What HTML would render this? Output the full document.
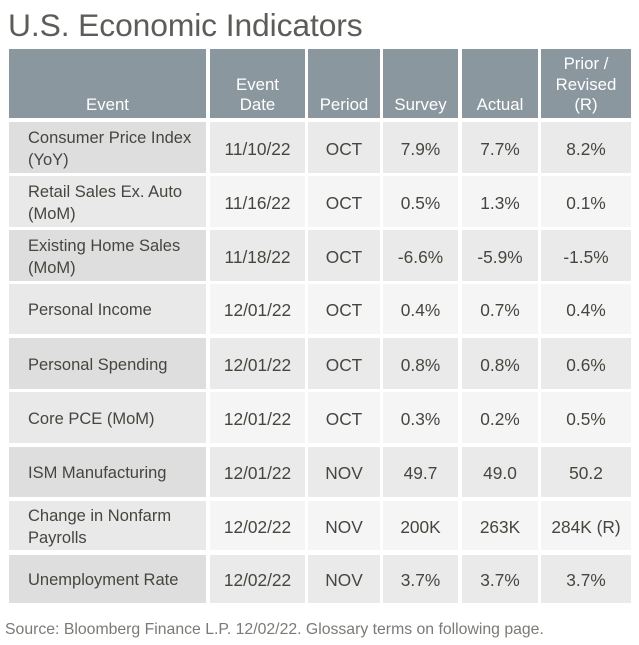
<!DOCTYPE html>
<html>
<head>
<meta charset="utf-8">
<style>
  html, body { margin:0; padding:0; }
  body { width:639px; height:645px; background:#ffffff; position:relative; overflow:hidden;
         font-family:"Liberation Sans", Arial, sans-serif; }
  .title { position:absolute; left:8px; top:9px; font-size:31.8px; line-height:32px; color:#5c5c58;
           white-space:nowrap; letter-spacing:-0.1px; }
  .c { position:absolute; display:flex; align-items:center; justify-content:center; text-align:center;
       font-size:17.3px; line-height:22px; color:#46463f; box-sizing:border-box; padding-top:2px; }
  .h { background:#8b979f; color:#ffffff; align-items:flex-end; line-height:20.7px; padding-bottom:2px; padding-top:0; font-size:16.8px; }
  .l { justify-content:flex-start; text-align:left; padding-left:19px; font-size:16.5px; padding-top:2px; }
  .o1 { background:#dedede; }
  .o2 { background:#eaeaea; }
  .e1 { background:#e9e9e9; }
  .e2 { background:#f5f5f5; }
  .foot { position:absolute; left:5px; top:622px; font-size:15.8px; line-height:16px; color:#7a7a76; white-space:nowrap; }
</style>
</head>
<body>
<div class="title">U.S. Economic Indicators</div>

<!-- header -->
<div class="c h" style="left:9px;top:49px;width:197px;height:69px;">Event</div>
<div class="c h" style="left:210px;top:49px;width:95px;height:69px;">Event<br>Date</div>
<div class="c h" style="left:308px;top:49px;width:72px;height:69px;">Period</div>
<div class="c h" style="left:383px;top:49px;width:75px;height:69px;">Survey</div>
<div class="c h" style="left:462px;top:49px;width:76px;height:69px;">Actual</div>
<div class="c h" style="left:541px;top:49px;width:90px;height:69px;">Prior /<br>Revised<br>(R)</div>

<!-- row 1 -->
<div class="c l o1" style="left:9px;top:122px;width:197px;height:51px;">Consumer Price Index<br>(YoY)</div>
<div class="c o2" style="left:210px;top:122px;width:95px;height:51px;">11/10/22</div>
<div class="c o2" style="left:308px;top:122px;width:72px;height:51px;">OCT</div>
<div class="c o2" style="left:383px;top:122px;width:75px;height:51px;">7.9%</div>
<div class="c o2" style="left:462px;top:122px;width:76px;height:51px;">7.7%</div>
<div class="c o2" style="left:541px;top:122px;width:90px;height:51px;">8.2%</div>

<!-- row 2 -->
<div class="c l e1" style="left:9px;top:176px;width:197px;height:51px;">Retail Sales Ex. Auto<br>(MoM)</div>
<div class="c e2" style="left:210px;top:176px;width:95px;height:51px;">11/16/22</div>
<div class="c e2" style="left:308px;top:176px;width:72px;height:51px;">OCT</div>
<div class="c e2" style="left:383px;top:176px;width:75px;height:51px;">0.5%</div>
<div class="c e2" style="left:462px;top:176px;width:76px;height:51px;">1.3%</div>
<div class="c e2" style="left:541px;top:176px;width:90px;height:51px;">0.1%</div>

<!-- row 3 -->
<div class="c l o1" style="left:9px;top:230px;width:197px;height:51px;">Existing Home Sales<br>(MoM)</div>
<div class="c o2" style="left:210px;top:230px;width:95px;height:51px;">11/18/22</div>
<div class="c o2" style="left:308px;top:230px;width:72px;height:51px;">OCT</div>
<div class="c o2" style="left:383px;top:230px;width:75px;height:51px;">-6.6%</div>
<div class="c o2" style="left:462px;top:230px;width:76px;height:51px;">-5.9%</div>
<div class="c o2" style="left:541px;top:230px;width:90px;height:51px;">-1.5%</div>

<!-- row 4 -->
<div class="c l e1" style="left:9px;top:284px;width:197px;height:50px;">Personal Income</div>
<div class="c e2" style="left:210px;top:284px;width:95px;height:50px;">12/01/22</div>
<div class="c e2" style="left:308px;top:284px;width:72px;height:50px;">OCT</div>
<div class="c e2" style="left:383px;top:284px;width:75px;height:50px;">0.4%</div>
<div class="c e2" style="left:462px;top:284px;width:76px;height:50px;">0.7%</div>
<div class="c e2" style="left:541px;top:284px;width:90px;height:50px;">0.4%</div>

<!-- row 5 -->
<div class="c l o1" style="left:9px;top:338px;width:197px;height:51px;">Personal Spending</div>
<div class="c o2" style="left:210px;top:338px;width:95px;height:51px;">12/01/22</div>
<div class="c o2" style="left:308px;top:338px;width:72px;height:51px;">OCT</div>
<div class="c o2" style="left:383px;top:338px;width:75px;height:51px;">0.8%</div>
<div class="c o2" style="left:462px;top:338px;width:76px;height:51px;">0.8%</div>
<div class="c o2" style="left:541px;top:338px;width:90px;height:51px;">0.6%</div>

<!-- row 6 -->
<div class="c l e1" style="left:9px;top:392px;width:197px;height:51px;">Core PCE (MoM)</div>
<div class="c e2" style="left:210px;top:392px;width:95px;height:51px;">12/01/22</div>
<div class="c e2" style="left:308px;top:392px;width:72px;height:51px;">OCT</div>
<div class="c e2" style="left:383px;top:392px;width:75px;height:51px;">0.3%</div>
<div class="c e2" style="left:462px;top:392px;width:76px;height:51px;">0.2%</div>
<div class="c e2" style="left:541px;top:392px;width:90px;height:51px;">0.5%</div>

<!-- row 7 -->
<div class="c l o1" style="left:9px;top:447px;width:197px;height:50px;">ISM Manufacturing</div>
<div class="c o2" style="left:210px;top:447px;width:95px;height:50px;">12/01/22</div>
<div class="c o2" style="left:308px;top:447px;width:72px;height:50px;">NOV</div>
<div class="c o2" style="left:383px;top:447px;width:75px;height:50px;">49.7</div>
<div class="c o2" style="left:462px;top:447px;width:76px;height:50px;">49.0</div>
<div class="c o2" style="left:541px;top:447px;width:90px;height:50px;">50.2</div>

<!-- row 8 -->
<div class="c l e1" style="left:9px;top:501px;width:197px;height:49px;">Change in Nonfarm<br>Payrolls</div>
<div class="c e2" style="left:210px;top:501px;width:95px;height:49px;">12/02/22</div>
<div class="c e2" style="left:308px;top:501px;width:72px;height:49px;">NOV</div>
<div class="c e2" style="left:383px;top:501px;width:75px;height:49px;">200K</div>
<div class="c e2" style="left:462px;top:501px;width:76px;height:49px;">263K</div>
<div class="c e2" style="left:541px;top:501px;width:90px;height:49px;">284K (R)</div>

<!-- row 9 -->
<div class="c l o1" style="left:9px;top:555px;width:197px;height:48px;">Unemployment Rate</div>
<div class="c o2" style="left:210px;top:555px;width:95px;height:48px;">12/02/22</div>
<div class="c o2" style="left:308px;top:555px;width:72px;height:48px;">NOV</div>
<div class="c o2" style="left:383px;top:555px;width:75px;height:48px;">3.7%</div>
<div class="c o2" style="left:462px;top:555px;width:76px;height:48px;">3.7%</div>
<div class="c o2" style="left:541px;top:555px;width:90px;height:48px;">3.7%</div>

<div class="foot">Source: Bloomberg Finance L.P. 12/02/22. Glossary terms on following page.</div>
</body>
</html>
